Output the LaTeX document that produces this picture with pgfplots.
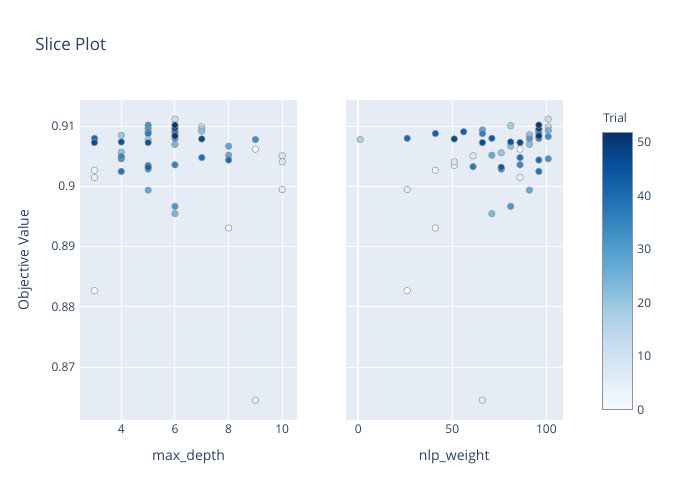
\documentclass[border=0pt]{standalone}
\usepackage{fontspec}
\setmainfont{Open Sans}
\usepackage{pgfplots}
\usepackage{pgfplotstable}
\pgfplotsset{compat=1.18}
\definecolor{txt}{HTML}{2A3F5F}
\definecolor{bgc}{HTML}{E5ECF6}
\pgfplotsset{colormap={plotlyblues}{rgb255=(247,251,255) rgb255=(222,235,247) rgb255=(198,219,239) rgb255=(158,202,225) rgb255=(107,174,214) rgb255=(66,146,198) rgb255=(33,113,181) rgb255=(8,81,156) rgb255=(8,48,107)}}

\pgfplotstableread{
md v t
3 0.8827 0
9 0.9062 1
8 0.8931 2
3 0.9027 3
3 0.9015 4
9 0.8645 5
10 0.8995 6
10 0.9051 7
10 0.9041 8
7 0.9099 11
6 0.9112 12
7 0.9095 14
5 0.9078 17
4 0.9085 20
4 0.9057 21
7 0.9092 22
6 0.9070 24
6 0.8955 24
5 0.8994 27
8 0.9052 27
8 0.9067 28
5 0.9097 30
6 0.8967 31
5 0.9102 32
4 0.9046 33
9 0.9078 33
5 0.9029 34
6 0.9080 34
4 0.9050 35
5 0.9091 35
6 0.9036 35
5 0.9035 36
5 0.9088 37
4 0.9025 38
6 0.9088 38
7 0.9048 39
3 0.9080 40
6 0.9092 40
8 0.9044 40
5 0.9032 42
4 0.9074 45
5 0.9073 45
3 0.9073 46
7 0.9079 47
6 0.9097 49
6 0.9102 50
6 0.9084 51
}\lefttab

\pgfplotstableread{
nlp v t
26 0.8827 0
86 0.9062 1
41 0.8931 2
41 0.9027 3
86 0.9015 4
51 0.9035 4
66 0.8645 5
26 0.8995 6
61 0.9051 7
51 0.9041 8
101 0.9112 12
101 0.9099 13
1 0.9078 17
81 0.9101 18
91 0.9086 18
76 0.9056 21
91 0.9083 21
81 0.9067 22
91 0.9070 22
71 0.8955 24
101 0.9093 25
71 0.9052 27
91 0.8994 27
66 0.9094 28
91 0.9079 30
81 0.8967 31
101 0.9046 32
101 0.9083 33
86 0.9036 34
96 0.9092 35
96 0.9080 35
66 0.9088 36
76 0.9029 36
61 0.9033 37
96 0.9088 38
96 0.9025 38
86 0.9048 39
26 0.9080 40
96 0.9044 40
41 0.9088 42
56 0.9091 43
71 0.9080 44
76 0.9032 44
81 0.9074 45
66 0.9073 46
86 0.9073 47
51 0.9079 47
96 0.9096 49
96 0.9102 50
96 0.9084 51
}\righttab

\pgfplotsset{
  slice/.style={
    scale only axis, width=162.75pt, height=240pt,
    anchor=south west,
    ymin=0.86121, ymax=0.91437,
    axis background/.style={fill=bgc},
    axis line style={draw=none},
    major tick length=0pt,
    grid=major, grid style={white, line width=0.75pt},
    ytick={0.87,0.88,0.89,0.90,0.91},
    ticklabel style={font=\fontsize{9}{10}\selectfont, text=txt},
    /pgf/number format/assume math mode=true,
    colormap name=plotlyblues,
    point meta min=0, point meta max=52,
    xlabel style={font=\fontsize{10.5}{12}\selectfont, text=txt, at={(axis description cs:0.5,-0.1156)}, anchor=center},
    ylabel style={font=\fontsize{10.5}{12}\selectfont, text=txt, at={(axis description cs:-0.2535,0.5)}, anchor=center},
  },
  pts/.style={scatter, only marks, mark=*, mark size=2.5pt, scatter src=explicit,
    scatter/use mapped color={draw=gray!80, fill=mapped color},
    mark options={line width=0.4pt}},
}

\begin{document}
\begin{tikzpicture}
\useasboundingbox (0,0) rectangle (525pt,375pt);
\node[anchor=west, inner sep=0pt, font=\fontsize{12.75}{15}\selectfont, text=txt] at (26.25pt,342pt) {Slice Plot};

\begin{axis}[slice, at={(60pt,60pt)},
  xmin=2.46, xmax=10.55,
  xtick={4,6,8,10},
  yticklabels={0.87,0.88,0.89,0.9,0.91},
  xlabel={max\_depth}, ylabel={Objective Value}]
\addplot[pts] table[x=md, y=v, meta=t] {\lefttab};
\end{axis}

\begin{axis}[slice, at={(259.3pt,60pt)},
  xmin=-6.7, xmax=108.7,
  xtick={50,100},
  extra x ticks={0},
  extra x tick style={grid style={white, line width=1.5pt}},
  yticklabels={},
  xlabel={nlp\_weight}]
\addplot[pts] table[x=nlp, y=v, meta=t] {\righttab};
\end{axis}

\begin{axis}[at={(452pt,67.5pt)}, anchor=south west,
  scale only axis, width=22.5pt, height=208.5pt,
  xmin=0, xmax=1, ymin=0, ymax=52,
  xtick=\empty, ytick={0,10,20,30,40,50},
  yticklabel pos=right,
  major tick length=0pt,
  axis line style={draw=gray!85, line width=0.75pt},
  axis on top,
  ticklabel style={font=\fontsize{9}{10}\selectfont, text=txt},
  /pgf/number format/assume math mode=true,
  colormap name=plotlyblues,
  point meta min=0, point meta max=52]
\addplot[surf, shader=interp, point meta=y, mesh/cols=2] coordinates {(0,0) (1,0) (0,52) (1,52)};
\end{axis}
\node[anchor=west, inner sep=0pt, font=\fontsize{9}{10}\selectfont, text=txt] at (452.25pt,286.5pt) {Trial};
\end{tikzpicture}
\end{document}
